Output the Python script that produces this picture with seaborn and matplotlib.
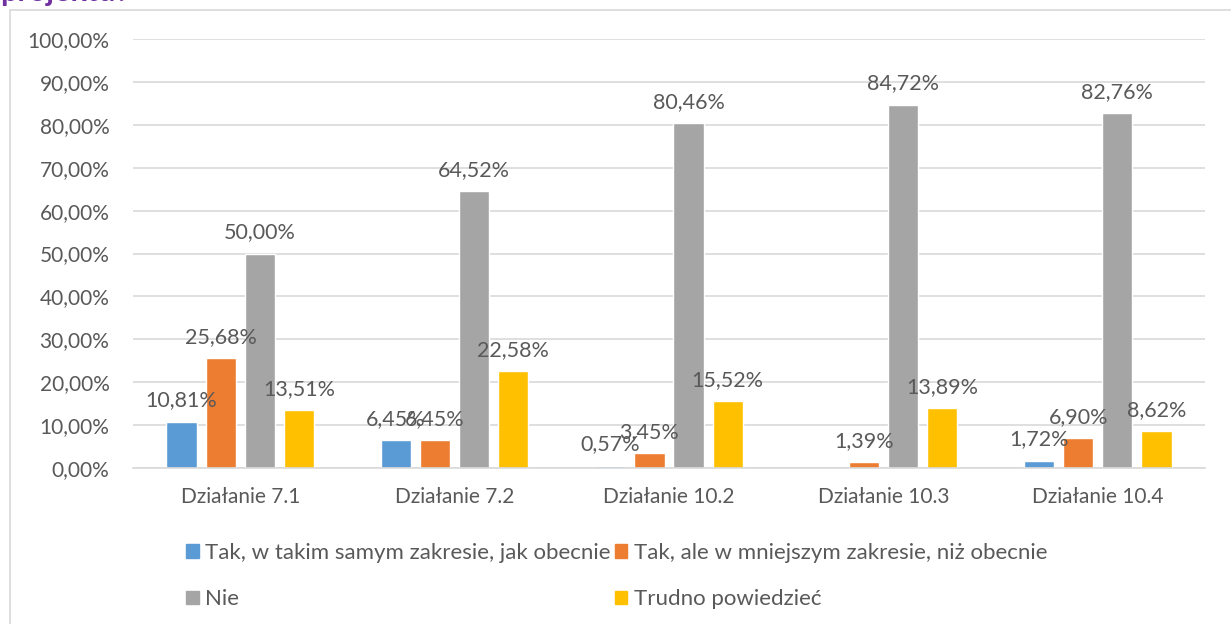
import numpy as np
import pandas as pd
import matplotlib
matplotlib.use("Agg")
import matplotlib.pyplot as plt
import matplotlib.ticker as mticker
from matplotlib.lines import Line2D
import seaborn as sns

# Data
categories = ["Działanie 7.1", "Działanie 7.2", "Działanie 10.2", "Działanie 10.3", "Działanie 10.4"]
series_names = [
    "Tak, w takim samym zakresie, jak obecnie",
    "Tak, ale w mniejszym zakresie, niż obecnie",
    "Nie",
    "Trudno powiedzieć",
]
tak_same = [10.81, 6.45, 0.57, np.nan, 1.72]
tak_less = [25.68, 6.45, 3.45, 1.39, 6.90]
nie = [50.00, 64.52, 80.46, 84.72, 82.76]
trudno = [13.51, 22.58, 15.52, 13.89, 8.62]
y_ticks = list(range(0, 101, 10))

colors = ["#5B9BD5", "#ED7D31", "#A5A5A5", "#FFC000"]
text_color = "#595959"
grid_color = "#D9D9D9"


def pl_pct(v, pos=None):
    return f"{v:.2f}%".replace(".", ",")


rows = []
for name, vals in zip(series_names, [tak_same, tak_less, nie, trudno]):
    for cat, v in zip(categories, vals):
        rows.append({"Działanie": cat, "Odpowiedź": name, "Wartość": v})
df = pd.DataFrame(rows)

sns.set_style("white")
plt.rcParams["font.family"] = ["Lato", "DejaVu Sans"]

fig = plt.figure(figsize=(12.31, 6.24), dpi=100)
W, H = 1231, 624
ax = fig.add_axes([133 / W, 1 - 468 / H, (1205 - 133) / W, (468 - 39) / H])

sns.barplot(data=df, x="Działanie", y="Wartość", hue="Odpowiedź",
            order=categories, hue_order=series_names, palette=colors,
            width=0.73, gap=0.23, errorbar=None, legend=False, ax=ax,
            saturation=1)

for c in ax.containers:
    ax.bar_label(c, fmt=lambda v: "" if np.isnan(v) else pl_pct(v), padding=8,
                 fontsize=15.5, color=text_color)

ax.set_ylim(0, 100)
ax.set_yticks(y_ticks)
ax.yaxis.set_major_formatter(mticker.FuncFormatter(pl_pct))
ax.set_xlim(-0.5, len(categories) - 0.5)
ax.set_xlabel("")
ax.set_ylabel("")
ax.grid(axis="y", color=grid_color, linewidth=1.2)
ax.set_axisbelow(True)
for s in ["top", "right", "left"]:
    ax.spines[s].set_visible(False)
ax.spines["bottom"].set_color(grid_color)
ax.spines["bottom"].set_linewidth(1.2)
ax.tick_params(axis="both", length=0, labelsize=15, labelcolor=text_color)
ax.tick_params(axis="x", pad=14)
ax.tick_params(axis="y", pad=17)

# Legend: two columns, two rows
handles = [plt.Rectangle((0, 0), 1, 1, color=col) for col in colors]
order = [0, 2, 1, 3]
leg = fig.legend([handles[i] for i in order], [series_names[i] for i in order],
                 ncol=2, loc="center", bbox_to_anchor=(617 / W, 1 - 576 / H),
                 frameon=False, fontsize=16, handlelength=0.55, handleheight=0.55,
                 handletextpad=0.3, columnspacing=0.2, labelspacing=1.2)
for t in leg.get_texts():
    t.set_color(text_color)

# Chart frame (cropped) and cut-off heading
fig.add_artist(Line2D([10 / W, 10 / W], [0, 1 - 10 / H], color=grid_color, linewidth=1.2))
fig.add_artist(Line2D([10 / W, 1], [1 - 10 / H, 1 - 10 / H], color=grid_color, linewidth=1.2))
fig.text(0.0, 1 - 1 / H, "projektu?", color="#7030A0", fontsize=22, fontweight="bold",
         va="baseline", ha="left")

fig.savefig("out.png", dpi=100)
